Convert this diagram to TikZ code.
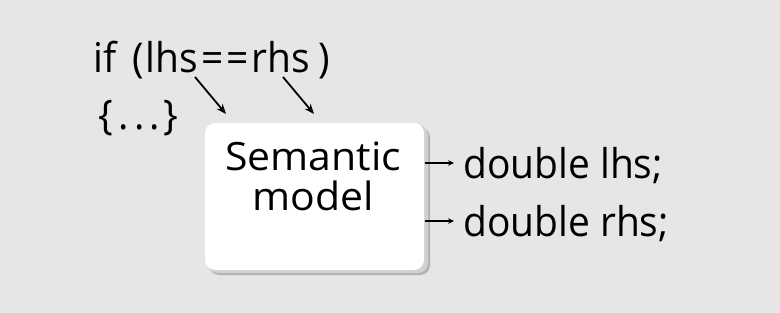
\documentclass[tikz,border=0pt]{standalone}
\usepackage{fontspec}
\setmainfont{Open Sans}
\newfontfamily\handA{Open Sans}[FakeStretch=0.95]
\newfontfamily\handB{Open Sans}[FakeStretch=1.05]
\usetikzlibrary{arrows.meta}
\definecolor{bg}{HTML}{E6E6E6}
\tikzset{
  txt/.style={inner sep=0pt, font=\handA\fontsize{41}{46}\selectfont, text=black, anchor=base west},
  boxtxt/.style={inner sep=0pt, font=\handB\fontsize{39}{40}\selectfont, align=center},
  arr/.style={line width=1.8pt, -{Stealth[length=10pt,width=8pt]}},
  sarr/.style={line width=1.5pt, -{Stealth[length=6pt,width=5.5pt]}},
}
\begin{document}
\begin{tikzpicture}[x=1pt,y=-1pt]
\useasboundingbox (0,0) rectangle (780,313);
\fill[bg] (0,0) rectangle (780,313);
% shadow
\fill[black!30, rounded corners=10pt] (209,127) rectangle (430,275);
\fill[black!18, rounded corners=10pt] (207,125) rectangle (428,273);
\node[fill=white, rounded corners=10pt, minimum width=219pt, minimum height=147pt, inner sep=0pt] (box) at (314.5,196.5) {};
\node[boxtxt] (sem) at (313,176) {Semantic\\model};
\node[txt] (iff) at (93,73) {if\hspace{16pt}(\hspace{2pt}lhs\hspace{3pt}=\hspace{3pt}=\hspace{3pt}rhs\hspace{8pt})};
\node[txt] (brace) at (98,130) {\{\hspace{6pt}.\hspace{5pt}.\hspace{5pt}.\hspace{3pt}\}};
\node[txt] (dl) at (463,178) {double lhs;};
\node[txt] (dr) at (463,236) {double rhs;};
\coordinate (a1s) at (195,77);
\coordinate (a1e) at (226,114);
\coordinate (a2s) at (283,77);
\coordinate (a2e) at (314,114);
\draw[arr] (a1s) -- (a1e);
\draw[arr] (a2s) -- (a2e);
\coordinate (b1s) at (425,163);
\coordinate (b2s) at (425,221);
\draw[sarr] (b1s) -- ([xshift=-9pt]dl.west |- b1s);
\draw[sarr] (b2s) -- ([xshift=-9pt]dr.west |- b2s);
\end{tikzpicture}
\end{document}
